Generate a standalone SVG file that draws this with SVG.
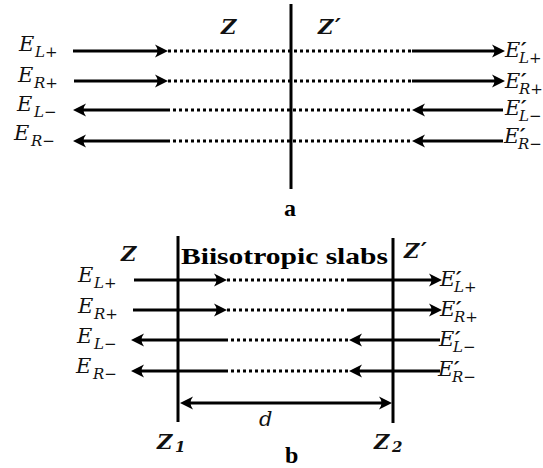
<svg xmlns="http://www.w3.org/2000/svg" width="543" height="468" viewBox="0 0 543 468">
<defs>
<marker id="ah" markerUnits="userSpaceOnUse" markerWidth="16" markerHeight="16" viewBox="-14 -8 16 16" refX="-6" refY="0" orient="auto-start-reverse">
<path d="M-13,-6.5 L0,0 L-13,6.5 Q-8,0 -13,-6.5 Z" fill="#000"/>
</marker>
<style>
.sol{stroke:#000;stroke-width:3;fill:none}
.dot{stroke:#000;stroke-width:3;fill:none;stroke-dasharray:3 3}
.bar{stroke:#000;stroke-width:3;fill:none}
.m{font-family:"DejaVu Serif","Liberation Serif",serif;font-style:italic;fill:#111;font-size:21px}
.s{font-size:15px}
.p{font-size:22px;font-weight:bold}
.q{font-weight:bold}
.zb{font-family:"DejaVu Serif","Liberation Serif",serif;font-style:italic;font-weight:bold;font-size:21px;fill:#111}
.cap{font-family:"Liberation Serif","DejaVu Serif",serif;font-weight:bold;fill:#000}
</style>
</defs>
<rect width="543" height="468" fill="#fff"/>

<g id="connectors">
<line class="sol" x1="73" y1="51" x2="162" y2="51" marker-end="url(#ah)"/>
<line class="dot" x1="168" y1="51" x2="412" y2="51"/>
<line class="sol" x1="412" y1="51" x2="499" y2="51" marker-end="url(#ah)"/>
<line class="sol" x1="74" y1="81" x2="162" y2="81" marker-end="url(#ah)"/>
<line class="dot" x1="168" y1="81" x2="412" y2="81"/>
<line class="sol" x1="412" y1="81" x2="499" y2="81" marker-end="url(#ah)"/>
<line class="sol" x1="167" y1="110" x2="79" y2="110" marker-end="url(#ah)"/>
<line class="dot" x1="167" y1="110" x2="412" y2="110"/>
<line class="sol" x1="503" y1="110" x2="418" y2="110" marker-end="url(#ah)"/>
<line class="sol" x1="167" y1="141" x2="79" y2="141" marker-end="url(#ah)"/>
<line class="dot" x1="167" y1="141" x2="412" y2="141"/>
<line class="sol" x1="503" y1="141" x2="418" y2="141" marker-end="url(#ah)"/>
<line class="sol" x1="134" y1="280" x2="221" y2="280" marker-end="url(#ah)"/>
<line class="dot" x1="227" y1="280" x2="347" y2="280"/>
<line class="sol" x1="347" y1="280" x2="436" y2="280" marker-end="url(#ah)"/>
<line class="sol" x1="133" y1="310" x2="221" y2="310" marker-end="url(#ah)"/>
<line class="dot" x1="227" y1="310" x2="347" y2="310"/>
<line class="sol" x1="347" y1="310" x2="436" y2="310" marker-end="url(#ah)"/>
<line class="sol" x1="225" y1="340" x2="137" y2="340" marker-end="url(#ah)"/>
<line class="dot" x1="225" y1="340" x2="349" y2="340"/>
<line class="sol" x1="440" y1="340" x2="355" y2="340" marker-end="url(#ah)"/>
<line class="sol" x1="225" y1="371" x2="137" y2="371" marker-end="url(#ah)"/>
<line class="dot" x1="225" y1="371" x2="349" y2="371"/>
<line class="sol" x1="440" y1="371" x2="355" y2="371" marker-end="url(#ah)"/>
<line class="sol" x1="186" y1="403" x2="386" y2="403" marker-start="url(#ah)" marker-end="url(#ah)"/>
</g>

<g id="interface-a">
<line class="bar" x1="291" y1="4" x2="291" y2="189"/>
<text class="zb" x="221" y="34">Z</text>
<text class="zb" x="318" y="34">Z<tspan class="p" x="335" y="34">′</tspan></text>
<text class="cap" x="284" y="216" font-size="24">a</text>
</g>

<g id="labels-a-left" class="m">
<text x="19" y="51">E<tspan class="s" x="35" y="57">L+</tspan></text>
<text x="18" y="82">E<tspan class="s" x="34" y="88">R+</tspan></text>
<text x="17" y="111">E<tspan class="s" x="34" y="117">L−</tspan></text>
<text x="14" y="140">E<tspan class="s" x="31" y="146">R−</tspan></text>
</g>

<g id="labels-a-right" class="m">
<text x="505" y="57">E<tspan class="q" x="521" y="57">′</tspan><tspan class="s" x="519" y="63">L+</tspan></text>
<text x="505" y="88">E<tspan class="q" x="521" y="88">′</tspan><tspan class="s" x="519" y="94">R+</tspan></text>
<text x="505" y="115">E<tspan class="q" x="521" y="115">′</tspan><tspan class="s" x="519" y="121">L−</tspan></text>
<text x="504" y="143">E<tspan class="q" x="520" y="143">′</tspan><tspan class="s" x="518" y="149">R−</tspan></text>
</g>

<g id="slab-b">
<line class="bar" x1="178" y1="236" x2="178" y2="422"/>
<line class="bar" x1="393" y1="238" x2="393" y2="423"/>
<text class="zb" x="121" y="261">Z</text>
<text class="zb" x="404" y="258">Z<tspan class="p" x="421" y="258">′</tspan></text>
<text class="cap" x="181" y="264" font-size="24" textLength="207" lengthAdjust="spacingAndGlyphs">Biisotropic slabs</text>
<text class="zb" x="157" y="449">Z<tspan font-size="15" x="175" y="452">1</tspan></text>
<text class="zb" x="374" y="449">Z<tspan font-size="15" x="392" y="452">2</tspan></text>
<text class="m" x="259" y="426">d</text>
<text class="cap" x="285" y="463" font-size="24">b</text>
</g>

<g id="labels-b-left" class="m">
<text x="78" y="282">E<tspan class="s" x="94" y="288">L+</tspan></text>
<text x="78" y="313">E<tspan class="s" x="94" y="319">R+</tspan></text>
<text x="77" y="343">E<tspan class="s" x="94" y="349">L−</tspan></text>
<text x="76" y="373">E<tspan class="s" x="93" y="379">R−</tspan></text>
</g>

<g id="labels-b-right" class="m">
<text x="440" y="286">E<tspan class="q" x="456" y="286">′</tspan><tspan class="s" x="454" y="292">L+</tspan></text>
<text x="440" y="316">E<tspan class="q" x="456" y="316">′</tspan><tspan class="s" x="454" y="322">R+</tspan></text>
<text x="439" y="346">E<tspan class="q" x="455" y="346">′</tspan><tspan class="s" x="453" y="352">L−</tspan></text>
<text x="438" y="376">E<tspan class="q" x="454" y="376">′</tspan><tspan class="s" x="452" y="382">R−</tspan></text>
</g>
</svg>
